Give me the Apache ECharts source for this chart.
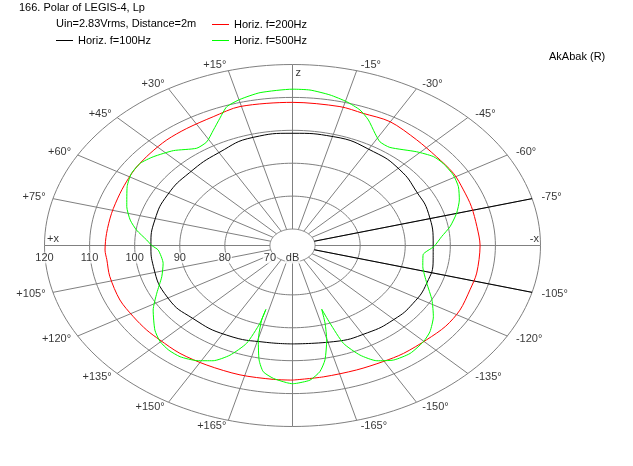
<!DOCTYPE html>
<html><head><meta charset="utf-8">
<script src="https://cdn.jsdelivr.net/npm/echarts@6/dist/echarts.min.js"></script>
<style>html,body{margin:0;padding:0;background:#fff}#c{width:633px;height:466px}</style>
</head><body><div id="c"></div>
<script>
// ---- data (angle in degrees, + = left / counter-clockwise, 0 = top) ----
const ringDb = [70, 80, 90, 100, 110, 120];
const ringLabels = ['70', '80', '90', '100', '110', '120'];
const spokeAngles = [-165,-150,-135,-120,-105,-90,-75,-60,-45,-30,-15,0,15,30,45,60,75,90,105,120,135,150,165,180];
const markerAngles = [-75, -105];
const angleTicks = [0,15,30,45,60,75,90,105,120,135,150,165,180,-165,-150,-135,-120,-105,-90,-75,-60,-45,-30,-15];
const angleTickLabels = ['0°','+15°','+30°','+45°','+60°','+75°','+90°','+105°','+120°','+135°','+150°','+165°','+/-180°',
  '-165°','-150°','-135°','-120°','-105°','-90°','-75°','-60°','-45°','-30°','-15°'];

const blackAngles = [-180,-162.8,-148,-135,-123.3,-111,-98,-90,-72,-59.4,-46,-32.2,-15.3,0,14.8,30.1,46,61,75.7,90,101.7,120,135,151.8,169,180];
const blackDb     = [94.9,95.6,96.3,96.8,97.0,96.9,96.5,96.2,96.7,97.0,98.1,98.7,99.3,99.1,99.0,97.6,96.8,96.7,96.5,96.4,96.5,96.9,96.3,95.9,95.0,94.9];

const redAngles = [-180,-170.3,-159.4,-150.3,-143.1,-133.9,-125.8,-117.9,-108.9,-101.6,-90,-82,-73.4,-66,-58.5,-49.8,-40.6,-29.9,-21.3,-14,0,15.4,24.2,33.4,41,48.5,55.4,60.7,67.5,76.3,84.9,91.9,96,103,113.4,121.5,128.5,134.3,142.7,152.4,163.5,174,180];
const redDb     = [105.9,105.5,105.4,105.6,106.0,106.3,106.9,107.0,106.6,106.7,106.6,106.3,106.4,106.5,106.9,106.8,107.3,108.4,108.1,108.5,108.5,108.8,107.9,107.6,107.5,107.2,107.0,106.7,106.4,106.3,106.4,106.6,106.4,106.6,106.7,106.4,106.3,106.1,106.2,106.0,106.0,105.9,105.9];

const greenAngles = [-178.8,-174.6,-171,-168.3,-165.2,-163,-161.5,-160.6,-159.2,-155.8,-151.9,-147.2,-141.5,-135.2,-130.7,-124.7,-118.2,-111,-102.5,-95.5,-90.5,-85.3,-80.7,-74.9,-69.5,-64.1,-59,-53.2,-49.1,-44,-35.9,-31.6,-28.2,-23.8,-20,-15.4,-10.3,-4.7,0,
  8.8,14.7,19.1,22.6,26.6,31.1,35.7,42.5,48.9,53.5,58.5,64,72.2,77.9,82.3,87,90,92.7,100.7,108.1,115.7,122.4,130.1,134.8,139.2,143.6,148.8,153.3,157.4,161.1,163,163.1,163.2,165.2,168,170.4,174,178.2,180];
const greenDb     = [106.9,106.1,103.8,100.5,94.7,89.7,85.4,90.0,96.8,101.5,104.7,106.4,106.9,106.2,105.2,103.0,100.1,96.9,94.6,94.1,96.4,98.2,100.4,102.7,104.5,105.9,106.6,106.7,106.3,104.6,101.8,102.0,103.7,106.7,108.8,110.3,111.5,112.4,112.5,
  112.0,110.9,109.6,106.9,104.2,101.8,101.4,104.1,106.0,107.0,106.9,105.8,103.6,101.8,99.9,97.4,96.2,94.8,94.2,95.5,98.4,101.6,104.9,106.4,107.0,107.0,105.9,104.2,101.1,96.4,89.7,85.3,88.7,94.7,100.6,103.9,105.6,106.7,107.0];

// ---- scale: radius in dB above the 65 dB centre ----
const DB0 = 65, RMAX = 55;
function xy(a, db) { const r = db - DB0, t = a * Math.PI / 180; return [-r * Math.sin(t), r * Math.cos(t)]; }
function curve(angles, dbs) { const pts = angles.map((a, i) => xy(a, dbs[i])); pts.push(pts[0]); return pts; }

const FONT = 'Liberation Sans, Arial, sans-serif';
const GRAY = '#808080';

const ringCoords = ringDb.map(db => { const c = []; for (let a = 0; a <= 360; a += 2) c.push(xy(a, db)); return { coords: c }; });
const spokeCoords = spokeAngles.map(a => ({ coords: [xy(a, ringDb[0]), xy(a, ringDb[ringDb.length - 1])] }));
const markerCoords = markerAngles.map(a => ({ coords: [xy(a, ringDb[0]), xy(a, ringDb[ringDb.length - 1])] }));

const ringLabelData = ringDb.map((db, i) => ({ value: xy(90, db), name: ringLabels[i] }));
ringLabelData.push({ value: [0, 0], name: 'dB' });

const LABR = 121.7;
const angleLabelData = angleTicks.map((a, i) => {
  let align = 'center', offset = [0, 0];
  if (a === 0) offset = [0, -2];
  else if (a === 180) offset = [0, 4];
  else if (a > 0) align = 'right';
  else { align = 'left'; offset = [2, 0]; }
  return { value: xy(a, LABR), name: angleTickLabels[i], label: { align: align, offset: offset } };
});
const axisNameData = [
  { value: xy(90, 120), name: '+x', label: { align: 'left', offset: [2.5, -6.5] } },
  { value: xy(-90, 120), name: '-x', label: { align: 'right', offset: [-1.5, -7] } },
  { value: xy(0, 120), name: 'z', label: { align: 'left', offset: [3, 8.5] } }
];

const txt = { fontSize: 11, fontFamily: FONT, color: '#000', fontWeight: 'normal' };
const chart = echarts.init(document.getElementById('c'), null, { renderer: 'canvas' });
chart.setOption({
  animation: false,
  backgroundColor: '#fff',
  title: [
    { text: '166. Polar of LEGIS-4, Lp', left: 19, top: 2, padding: 0, textStyle: Object.assign({ lineHeight: 12 }, txt) },
    { text: 'Uin=2.83Vrms, Distance=2m', left: 56, top: 18, padding: 0, textStyle: Object.assign({ lineHeight: 12 }, txt) },
    { text: 'AkAbak (R)', left: 549, top: 51, padding: 0, textStyle: Object.assign({ lineHeight: 12 }, txt) }
  ],
  legend: [
    { data: ['Horiz. f=200Hz', 'Horiz. f=500Hz'], left: 212, top: 18.5, orient: 'vertical', itemGap: 4, itemWidth: 17, itemHeight: 1,
      icon: 'rect', padding: 0, selectedMode: false, textStyle: Object.assign({ lineHeight: 12 }, txt) },
    { data: ['Horiz. f=100Hz'], left: 56, top: 34.5, orient: 'vertical', itemGap: 4, itemWidth: 17, itemHeight: 1,
      icon: 'rect', padding: 0, selectedMode: false, textStyle: Object.assign({ lineHeight: 12 }, txt) }
  ],
  grid: { left: 44.5, top: 64.5, width: 496, height: 362 },
  xAxis: { type: 'value', min: -RMAX, max: RMAX, show: false },
  yAxis: { type: 'value', min: -RMAX, max: RMAX, show: false },
  series: [
    { type: 'lines', coordinateSystem: 'cartesian2d', polyline: true, silent: true, z: 1,
      lineStyle: { color: GRAY, width: 1, opacity: 1 }, data: ringCoords },
    { type: 'lines', coordinateSystem: 'cartesian2d', silent: true, z: 1,
      lineStyle: { color: GRAY, width: 1, opacity: 1 }, data: spokeCoords },
    { type: 'lines', coordinateSystem: 'cartesian2d', silent: true, z: 2,
      lineStyle: { color: '#000', width: 1, opacity: 1 }, data: markerCoords },
    { name: 'Horiz. f=100Hz', type: 'line', data: curve(blackAngles, blackDb), showSymbol: false, symbol: 'none', smooth: 0.5, z: 3,
      color: '#000', lineStyle: { color: '#000', width: 1 } },
    { name: 'Horiz. f=200Hz', type: 'line', data: curve(redAngles, redDb), showSymbol: false, symbol: 'none', smooth: 0.3, z: 3,
      color: '#ff0000', lineStyle: { color: '#ff0000', width: 1 } },
    { name: 'Horiz. f=500Hz', type: 'line', data: curve(greenAngles, greenDb), showSymbol: false, symbol: 'none', smooth: 0.2, z: 3,
      color: '#00ff00', lineStyle: { color: '#00ff00', width: 1 } },
    { type: 'scatter', data: ringLabelData, symbolSize: 1, itemStyle: { color: 'transparent' }, silent: true, z: 10,
      label: { show: true, formatter: '{b}', position: 'inside', offset: [0, 12.5], backgroundColor: '#fff', padding: [0, 1],
        fontSize: 11, fontFamily: FONT, color: '#000' } },
    { type: 'scatter', data: angleLabelData, symbolSize: 1, itemStyle: { color: 'transparent' }, silent: true, z: 10,
      label: { show: true, formatter: '{b}', position: 'inside', verticalAlign: 'middle', fontSize: 11, fontFamily: FONT, color: '#000' } },
    { type: 'scatter', data: axisNameData, symbolSize: 1, itemStyle: { color: 'transparent' }, silent: true, z: 10,
      label: { show: true, formatter: '{b}', position: 'inside', verticalAlign: 'middle', fontSize: 11, fontFamily: FONT, color: '#000' } }
  ]
});
</script></body></html>
